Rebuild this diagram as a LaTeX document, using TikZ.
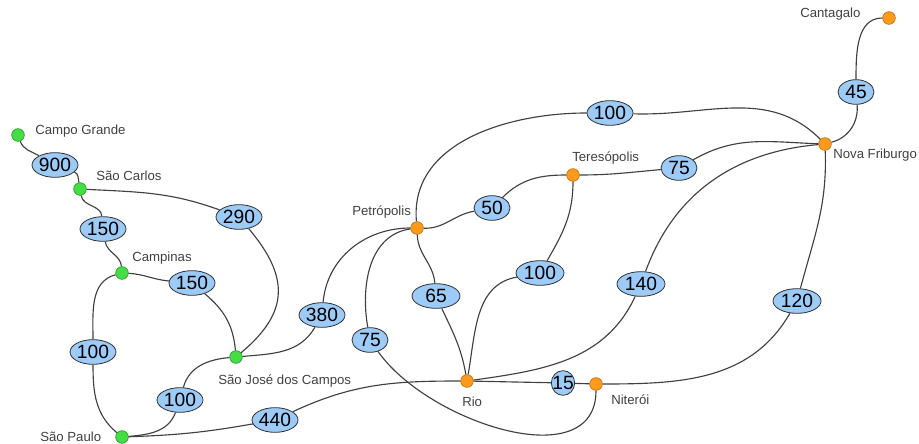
\documentclass[tikz,border=0pt]{standalone}
\usepackage{fontspec}
\setmainfont{Liberation Sans}
\usetikzlibrary{shapes.geometric}

\definecolor{spgreen}{HTML}{44DD44}
\definecolor{rjorange}{HTML}{FF9A1A}
\definecolor{distblue}{HTML}{9CCBF7}

\begin{document}
\begin{tikzpicture}[x=0.75pt,y=0.75pt,
  town/.style={circle,line width=0.5pt,minimum size=9.5pt,inner sep=0pt},
  sptown/.style={town,fill=spgreen,draw=spgreen!70!black},
  rjtown/.style={town,fill=rjorange,draw=rjorange!75!black},
  dist/.style={ellipse,draw=black!80,fill=distblue,line width=0.6pt,inner xsep=0pt,inner ysep=0pt,minimum height=18.5pt,minimum width=34.5pt,font=\fontsize{14.4}{15}\selectfont},
  shortdist/.style={dist,minimum width=27pt},
  townname/.style={anchor=west,text=black!75,inner sep=0pt,font=\fontsize{9.9}{11}\selectfont},
  road/.style={draw=black!75,line width=0.85pt}]
\useasboundingbox (0,0) rectangle (919,443);

% Towns (Sao Paulo state)
\node[sptown] (cg) at (18,308) {};
\node[sptown] (sc) at (80,254) {};
\node[sptown] (cp) at (122,170) {};
\node[sptown] (sj) at (236,86) {};
\node[sptown] (sp) at (122,6) {};

% Towns (Rio state)
\node[rjtown] (pe) at (417,215) {};
\node[rjtown] (te) at (573,268) {};
\node[rjtown] (nf) at (825,299) {};
\node[rjtown] (ca) at (889,425) {};
\node[rjtown] (ri) at (467,62) {};
\node[rjtown] (ni) at (596,59) {};

% Town names
\node[townname] (cgname) at (35,312) {Campo Grande};
\node[townname] (scname) at (96,267) {São Carlos};
\node[townname] (cpname) at (132,185) {Campinas};
\node[townname] (sjname) at (218,62) {São José dos Campos};
\node[townname] (spname) at (40,6) {São Paulo};
\node[townname] (pename) at (352,231) {Petrópolis};
\node[townname] (tename) at (572,285) {Teresópolis};
\node[townname] (nfname) at (833,288) {Nova Friburgo};
\node[townname] (caname) at (800,429) {Cantagalo};
\node[townname] (riname) at (462,41) {Rio};
\node[townname] (niname) at (611,43) {Niterói};

% Distances
\node[dist] (w1) at (55,278) {900};
\node[dist] (w2) at (103,214) {150};
\node[dist] (w3) at (239,226) {290};
\node[dist] (w4) at (192,160) {150};
\node[dist] (w5) at (93,91) {100};
\node[dist] (w6) at (180,43) {100};
\node[dist] (w7) at (275,23) {440};
\node[dist] (w8) at (322,128) {380};
\node[shortdist] (w9) at (370,103) {75};
\node[dist,minimum width=36pt] (w10) at (436,147) {65};
\node[shortdist] (w11) at (492,235) {50};
\node[dist] (w12) at (610,330) {100};
\node[shortdist] (w13) at (679,275) {75};
\node[dist,minimum width=36pt] (w14) at (540,170) {100};
\node[dist,minimum width=36pt] (w15) at (641,159) {140};
\node[dist,minimum width=36pt] (w16) at (797,142) {120};
\node[dist,inner xsep=-2pt,minimum width=17.5pt] (w17) at (563,60) {15};
\node[shortdist] (w18) at (856,351) {45};

% Roads in Sao Paulo
\draw[road] (cg) to[out=-70,in=150] (w1);
\draw[road] (w1) to[out=-20,in=100] (sc);
\draw[road] (sc) to[out=-80,in=95] (w2);
\draw[road] (w2) to[out=-80,in=95] (cp);
\draw[road] (sc) to[out=-3,in=160] (w3);
\draw[road] (w3) to[out=-50,in=40,looseness=1.3] (sj);
\draw[road] (cp) to[out=-3,in=175] (w4);
\draw[road] (w4) to[out=-40,in=95] (sj);
\draw[road] (cp) to[out=195,in=90] (w5);
\draw[road] (w5) to[out=-90,in=140] (sp);
\draw[road] (sp) to[out=5,in=-110] (w6);
\draw[road] (w6) to[out=75,in=185] (sj);
\draw[road] (sp) to[out=2,in=190] (w7);
\draw[road] (w7) to[out=25,in=180] (ri);

% Roads in Rio
\draw[road] (sj) to[out=5,in=-120] (w8);
\draw[road] (w8) to[out=85,in=180] (pe);
\draw[road] (pe) to[out=188,in=100] (w9);
\draw[road] (w9) to[out=-55,in=-90] (ni);
\draw[road] (pe) to[out=-88,in=95] (w10);
\draw[road] (w10) to[out=-65,in=100] (ri);
\draw[road] (pe) to[out=-2,in=190] (w11);
\draw[road] (w11) to[out=45,in=180] (te);
\draw[road] (pe) to[out=95,in=180] (w12);
\draw[road] (w12) to[out=-2,in=135] (nf);
\draw[road] (te) to[out=0,in=185] (w13);
\draw[road] (w13) to[out=30,in=178] (nf);
\draw[road] (te) to[out=-90,in=60] (w14);
\draw[road] (w14) to[out=190,in=80] (ri);
\draw[road] (ri) to[out=8,in=-115] (w15);
\draw[road] (w15) to[out=70,in=185] (nf);
\draw[road] (nf) to[out=-88,in=75] (w16);
\draw[road] (w16) to[out=-120,in=0] (ni);
\draw[road] (ri) -- (w17) -- (ni);
\draw[road] (nf) to[out=15,in=-85] (w18);
\draw[road] (w18) to[out=90,in=180] (ca);
\end{tikzpicture}
\end{document}
